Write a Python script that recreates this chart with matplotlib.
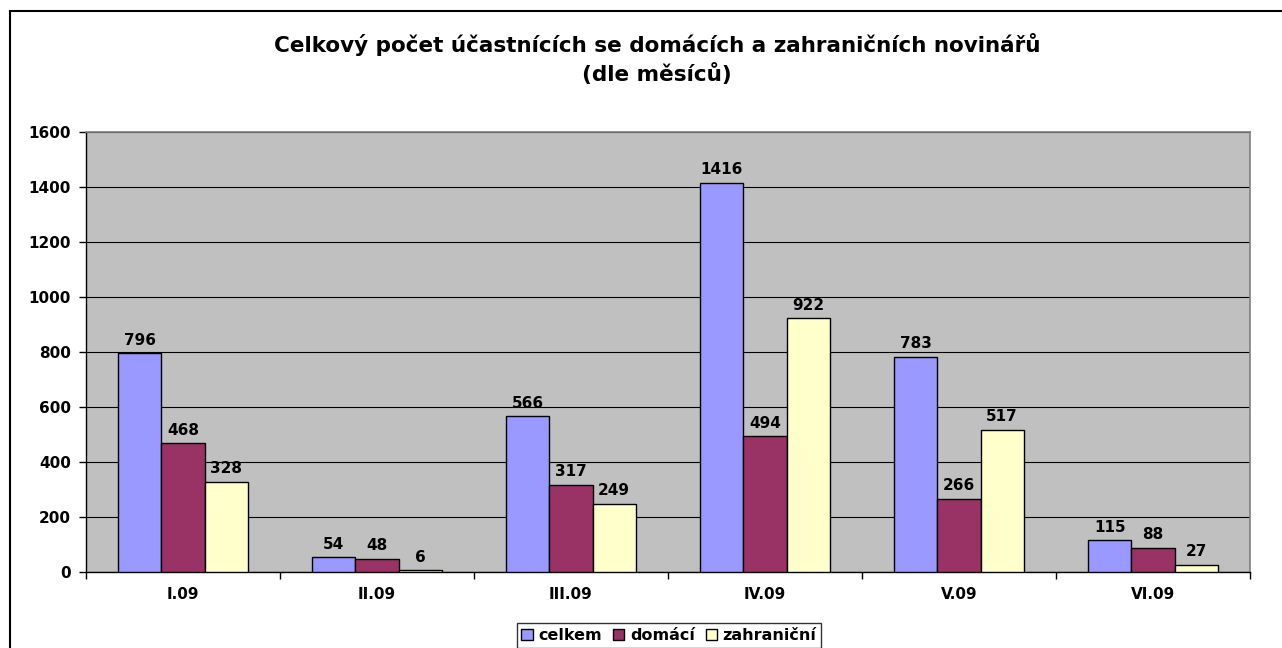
import matplotlib
matplotlib.use("Agg")
import matplotlib.pyplot as plt
import numpy as np
from matplotlib.lines import Line2D

categories = ["I.09", "II.09", "III.09", "IV.09", "V.09", "VI.09"]
series_names = ["celkem", "domácí", "zahraniční"]
celkem = [796, 54, 566, 1416, 783, 115]
domaci = [468, 48, 317, 494, 266, 88]
zahranicni = [328, 6, 249, 922, 517, 27]
colors = ["#9999FF", "#993366", "#FFFFCC"]
yticks = [0, 200, 400, 600, 800, 1000, 1200, 1400, 1600]
title = "Celkový počet účastnících se domácích a zahraničních novinářů\n(dle měsíců)"

plt.rcParams['font.family'] = ['DejaVu Sans']

W, H = 1282, 648
fig = plt.figure(figsize=(W / 100, H / 100), dpi=100)
fig.patch.set_facecolor("white")

# outer chart border (only top and left visible)
fig.add_artist(Line2D([10 / W, 10 / W], [0, 1 - 11 / H], color="black", lw=1.5, transform=fig.transFigure))
fig.add_artist(Line2D([10 / W, 1], [1 - 11 / H, 1 - 11 / H], color="black", lw=1.5, transform=fig.transFigure))

left, right, top, bottom = 86, 1250, 132, 572
ax = fig.add_axes([left / W, 1 - bottom / H, (right - left) / W, (bottom - top) / H])
ax.set_facecolor("#C0C0C0")

fs = 11
n = len(categories)
x = np.arange(n)
bw = 1 / 4.5
series = [celkem, domaci, zahranicni]
for i, (vals, c) in enumerate(zip(series, colors)):
    pos = x + (i - 1) * bw
    ax.bar(pos, vals, width=bw, color=c, edgecolor="black", linewidth=1.0, zorder=3, label=series_names[i])
    for p, v in zip(pos, vals):
        ax.annotate(str(v), (p, v), xytext=(0, 4), textcoords="offset points",
                    ha="center", va="bottom", fontsize=fs, fontweight="bold", zorder=4)

ax.set_xlim(-0.5, n - 0.5)
ax.set_ylim(0, 1600)
ax.set_yticks(yticks)
ax.set_yticklabels([str(t) for t in yticks], fontsize=fs, fontweight="bold")
ax.yaxis.grid(True, color="black", linewidth=0.8, zorder=1)
ax.set_axisbelow(True)

ax.set_xticks(np.arange(n + 1) - 0.5)
ax.set_xticklabels([])
ax.set_xticks(x, minor=True)
ax.set_xticklabels(categories, minor=True, fontsize=fs, fontweight="bold")
ax.tick_params(axis="x", which="minor", length=0, pad=11)
ax.tick_params(axis="x", which="major", length=5, width=1, direction="out")
ax.tick_params(axis="y", length=5, width=1, direction="out", pad=6)

for s in ["top", "right"]:
    ax.spines[s].set_color("#808080")
    ax.spines[s].set_linewidth(1.2)
ax.spines["left"].set_color("black")
ax.spines["bottom"].set_color("black")
ax.spines["left"].set_linewidth(1.0)
ax.spines["bottom"].set_linewidth(1.0)

fig.text(657 / W, 1 - 33 / H, title, ha="center", va="top", fontsize=15.5, fontweight="bold",
         linespacing=1.4)

leg = fig.legend(loc="upper center", bbox_to_anchor=(669 / W, 1 - 623 / H), ncol=3,
                 frameon=True, fancybox=False, edgecolor="black", borderaxespad=0,
                 handlelength=0.7, handleheight=0.7, handletextpad=0.35, columnspacing=0.7,
                 borderpad=0.3, prop={"weight": "bold", "size": 11.5})
leg.get_frame().set_linewidth(1.0)

fig.savefig("out.png", dpi=100)
